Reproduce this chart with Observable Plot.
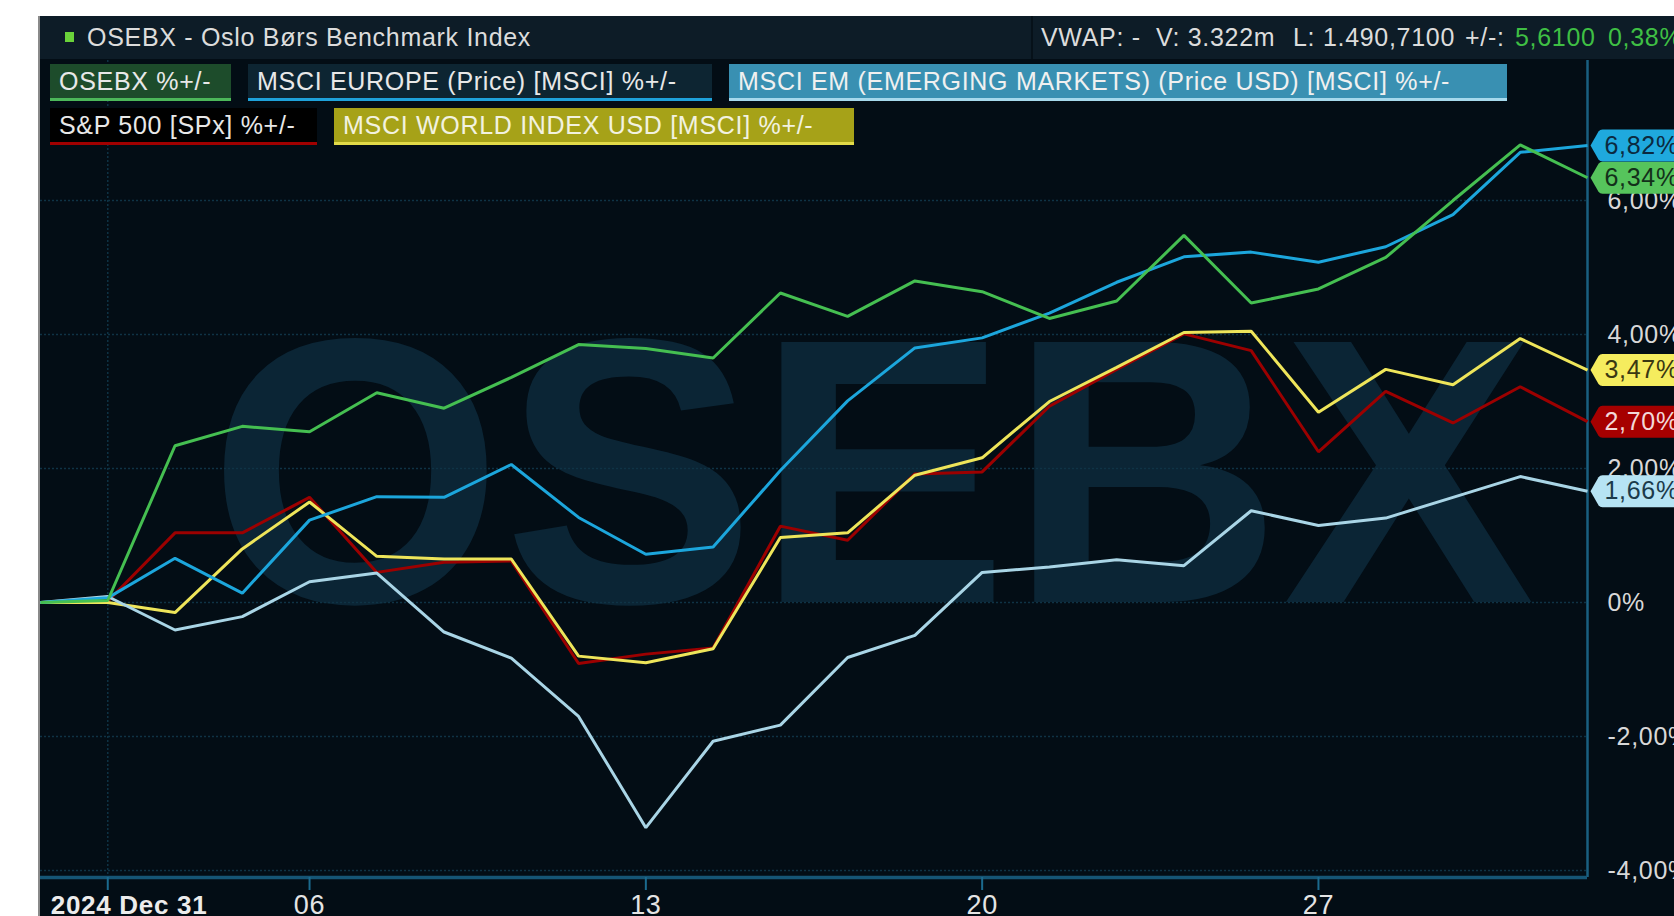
<!DOCTYPE html>
<html>
<head>
<meta charset="utf-8">
<script src="https://cdn.jsdelivr.net/npm/d3@7"></script>
<script src="https://cdn.jsdelivr.net/npm/@observablehq/plot@0.6"></script>
<style>
  html, body { margin: 0; padding: 0; background: #ffffff; width: 1674px; height: 916px; overflow: hidden; }
  body { position: relative; font-family: "Liberation Sans", Arial, sans-serif; }
  #edge { position: absolute; left: 38px; top: 16px; width: 2px; height: 900px; background: #8a8a8a; }
  #panel { position: absolute; left: 40px; top: 16px; width: 1634px; height: 900px; background: #030d15; overflow: hidden; }
  #chart { position: absolute; left: 0; top: 0; }
  #chart text { letter-spacing: 0.7px; }
  #header { position: absolute; left: 0; top: 0; width: 1634px; height: 43px; background: #0d1c27; z-index: 2; }
  #header span { position: absolute; top: 0; line-height: 43px; font-size: 25px; letter-spacing: 0.7px; color: #dcdcdc; white-space: pre; }
  #header .sq { position: absolute; left: 25px; top: 16px; width: 9px; height: 10px; background: #6ad23a; }
  #header .sep { position: absolute; left: 991px; top: 0; width: 2px; height: 43px; background: #061119; }
  .legend { position: absolute; height: 34px; line-height: 35px; font-size: 25px; letter-spacing: 0.7px; color: #ececec; padding-left: 9px; box-sizing: content-box; white-space: nowrap; overflow: hidden; z-index: 2; }
</style>
</head>
<body>
<div id="edge"></div>
<div id="panel">
  <div id="chart"></div>
  <div id="header"></div>
  <div id="legend"></div>
</div>
<script>
// ---------- data ----------
const dates = ["2024-12-30","2024-12-31","2025-01-02","2025-01-03","2025-01-06","2025-01-07","2025-01-08","2025-01-09","2025-01-10",
  "2025-01-13","2025-01-14","2025-01-15","2025-01-16","2025-01-17","2025-01-20","2025-01-21","2025-01-22","2025-01-23","2025-01-24",
  "2025-01-27","2025-01-28","2025-01-29","2025-01-30","2025-01-31"];

const osebx      = [0, 0.03, 2.34, 2.63, 2.55, 3.13, 2.90, 3.36, 3.85, 3.79, 3.65, 4.62, 4.27, 4.80, 4.64, 4.24, 4.50, 5.48, 4.47, 4.68, 5.15, 6.00, 6.83, 6.34];
const msciEurope = [0, 0.07, 0.66, 0.14, 1.23, 1.58, 1.57, 2.06, 1.27, 0.72, 0.83, 1.97, 3.01, 3.80, 3.95, 4.32, 4.78, 5.16, 5.23, 5.08, 5.31, 5.79, 6.72, 6.82];
const msciEM     = [0, 0.09, -0.41, -0.21, 0.31, 0.44, -0.44, -0.83, -1.70, -3.36, -2.07, -1.83, -0.82, -0.49, 0.45, 0.53, 0.64, 0.55, 1.37, 1.15, 1.26, 1.57, 1.88, 1.66];
const sp500      = [0, 0.02, 1.04, 1.04, 1.57, 0.45, 0.60, 0.62, -0.91, -0.77, -0.68, 1.14, 0.93, 1.92, 1.95, 2.93, 3.48, 4.01, 3.76, 2.25, 3.15, 2.68, 3.22, 2.70];
const msciWorld  = [0, 0, -0.15, 0.80, 1.50, 0.69, 0.65, 0.65, -0.80, -0.90, -0.69, 0.97, 1.04, 1.90, 2.16, 3.00, 3.51, 4.03, 4.05, 2.84, 3.48, 3.25, 3.94, 3.47];

const seriesNames = ["OSEBX %+/-", "MSCI EUROPE (Price) [MSCI] %+/-", "MSCI EM (EMERGING MARKETS) (Price USD) [MSCI] %+/-",
  "S&P 500 [SPx] %+/-", "MSCI WORLD INDEX USD [MSCI] %+/-"];

const tickDates  = ["2024-12-31","2025-01-06","2025-01-13","2025-01-20","2025-01-27"];
const tickLabels = ["2024 Dec 31","06","13","20","27"];
const yTicks     = [-4, -2, 0, 2, 4, 6];

const title = "OSEBX - Oslo Børs Benchmark Index";
const quote = [["VWAP: -", false], ["V: 3.322m", false], ["L: 1.490,7100", false], ["+/-:", false], ["5,6100", true], ["0,38%", true]];
const watermark = "OSEBX";

// ---------- styles ----------
const styles = {
  "OSEBX %+/-": {line: "#45bf51", tag: "#56c45c", tagText: "#13301a", box: "#1d4c2b", under: "#4cb85a", boxText: "#e8e8e8"},
  "MSCI EUROPE (Price) [MSCI] %+/-": {line: "#1ca6dc", tag: "#1fa9de", tagText: "#0b2a40", box: "#0d2532", under: "#1ea2da", boxText: "#e8e8e8"},
  "MSCI EM (EMERGING MARKETS) (Price USD) [MSCI] %+/-": {line: "#a9d5e6", tag: "#b6e3f4", tagText: "#1b3a4a", box: "#3990b2", under: "#a6d9ec", boxText: "#f0f0f0"},
  "S&P 500 [SPx] %+/-": {line: "#9c0000", tag: "#a60000", tagText: "#f2d8d8", box: "#000000", under: "#a00000", boxText: "#e8e8e8"},
  "MSCI WORLD INDEX USD [MSCI] %+/-": {line: "#eee55a", tag: "#f5ec5e", tagText: "#3a3812", box: "#a6a218", under: "#e2da48", boxText: "#f2f2e0"}
};
const valuesBySeries = [osebx, msciEurope, msciEM, sp500, msciWorld];
const drawOrder = [3, 4, 2, 1, 0];
const legendPos = [[10, 48, 172], [208, 48, 455], [689, 48, 769], [10, 92, 258], [294, 92, 511]];

// ---------- header & legend (HTML) ----------
const header = document.getElementById("header");
header.innerHTML = `<div class="sq"></div><div class="sep"></div>`;
const ht = document.createElement("span"); ht.style.left = "47px"; ht.textContent = title; header.appendChild(ht);
const quoteX = [1001, 1116, 1253, 1425, 1475, 1568];
quote.forEach(([t, g], k) => {
  const s = document.createElement("span");
  s.style.left = quoteX[k] + "px"; s.textContent = t;
  if (g) s.style.color = "#3fbf44";
  header.appendChild(s);
});
const legend = document.getElementById("legend");
seriesNames.forEach((name, k) => {
  const st = styles[name];
  const d = document.createElement("div");
  d.className = "legend";
  d.style.left = legendPos[k][0] + "px"; d.style.top = legendPos[k][1] + "px"; d.style.width = legendPos[k][2] + "px";
  d.style.background = st.box; d.style.borderBottom = "3px solid " + st.under; d.style.color = st.boxText;
  d.textContent = name;
  legend.appendChild(d);
});

// ---------- chart ----------
const n = dates.length;
const yMin = -4.104, yMax = 8.09;
const rows = [];
valuesBySeries.forEach((vals, k) => vals.forEach((v, i) => rows.push({i, v, name: seriesNames[k]})));
const last = valuesBySeries.map((vals, k) => ({i: n - 1, v: vals[n - 1], name: seriesNames[k]}));
const tickIdx = tickDates.map(t => dates.indexOf(t));
const fmtPct = v => v === 0 ? "0%" : d3.format(".2f")(v).replace(".", ",").replace("\u2212", "-") + "%";

const tagSymbol = {
  draw(ctx) {
    ctx.moveTo(0, 0);
    ctx.lineTo(8, -14);
    ctx.quadraticCurveTo(9.5, -16, 12, -16);
    ctx.lineTo(110, -16);
    ctx.lineTo(110, 16);
    ctx.lineTo(12, 16);
    ctx.quadraticCurveTo(9.5, 16, 8, 14);
    ctx.closePath();
  }
};

const lineMarks = drawOrder.map(k => Plot.line(rows.filter(r => r.name === seriesNames[k]), {
  x: "i", y: "v", stroke: styles[seriesNames[k]].line, strokeWidth: 3, strokeLinejoin: "miter", strokeLinecap: "butt"
}));

const tagOrder = [3, 2, 4, 0, 1].map(k => last[k]);

const chart = Plot.plot({
  width: 1634, height: 900,
  marginLeft: 0, marginRight: 87, marginTop: 44, marginBottom: 39,
  x: {type: "linear", domain: [0, n - 1], axis: null},
  y: {type: "linear", domain: [yMin, yMax], axis: null},
  style: {background: "transparent", overflow: "visible", fontFamily: "Liberation Sans, Arial, sans-serif"},
  marks: [
    Plot.text([watermark], {text: d => d, frameAnchor: "middle", dx: 58, dy: 12, fontSize: 378, fontWeight: "bold", fill: "#0b2535"}),
    Plot.ruleY(yTicks, {stroke: "#0f3345", strokeWidth: 1.5, strokeDasharray: "2,2"}),
    Plot.ruleX([tickIdx[0]], {stroke: "#0f3345", strokeWidth: 1.5, strokeDasharray: "2,2"}),
    Plot.ruleX([n - 1], {stroke: "#1a5f80", strokeWidth: 2.5}),
    Plot.ruleY([yMin], {stroke: "#155575", strokeWidth: 3.5}),
    Plot.axisX({ticks: tickIdx, tickSize: 13, tickFormat: () => "", stroke: "#1b6a8e", strokeWidth: 2, label: null}),
    Plot.text(tickIdx.slice(0, 1), {x: d => d, text: () => tickLabels[0], frameAnchor: "bottom", dy: 36, dx: -57, textAnchor: "start",
      fontSize: 26, fontWeight: "bold", fill: "#ececec"}),
    Plot.text(tickIdx.slice(1), {x: d => d, text: (d, k) => tickLabels[k + 1], frameAnchor: "bottom", dy: 36,
      fontSize: 27, fill: "#e4e4e4"}),
    Plot.text(yTicks, {x: n - 1, y: d => d, text: fmtPct, dx: 20, textAnchor: "start", fontSize: 25, fill: "#d8d8d8"}),
    ...lineMarks,
    Plot.dot(tagOrder, {x: "i", y: "v", symbol: tagSymbol, fill: d => styles[d.name].tag, stroke: "none", dx: 3}),
    Plot.text(tagOrder, {x: "i", y: "v", text: d => fmtPct(d.v), dx: 17, textAnchor: "start", fontSize: 25,
      fill: d => styles[d.name].tagText})
  ]
});
document.getElementById("chart").appendChild(chart);
</script>
</body>
</html>
